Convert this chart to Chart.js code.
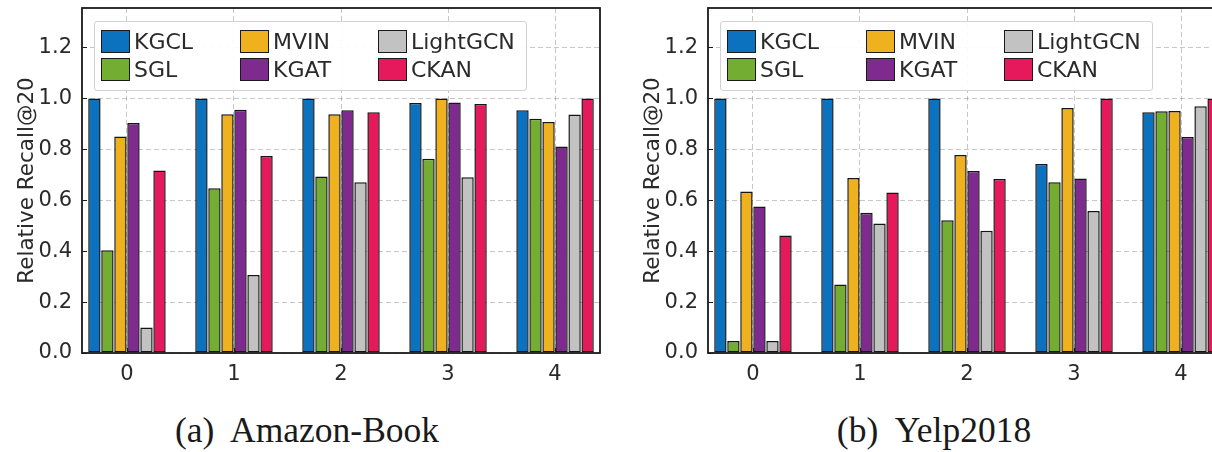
<!DOCTYPE html>
<html>
<head>
<meta charset="utf-8">
<script src="https://cdn.jsdelivr.net/npm/chart.js@4.4.0/dist/chart.umd.min.js"></script>
<style>
html, body { margin: 0; padding: 0; background: #fff; width: 1212px; height: 452px; overflow: hidden; position: relative; }
.panel { position: absolute; top: 0; width: 606px; height: 400px; }
.panel canvas { position: absolute; left: 0; top: 0; }
.legend { position: absolute; left: 94px; top: 21px; width: 433px; height: 70px; box-sizing: border-box;
  border: 1px solid #d2d2d2; background: rgba(255,255,255,0.92); border-radius: 3px;
  font-family: "DejaVu Sans"; font-size: 22px; color: #2a2a2a; }
.item { position: absolute; height: 23px; line-height: 23px; white-space: nowrap; }
.sw { position: absolute; left: 0; top: 0; width: 29px; height: 23px; box-sizing: border-box; border: 1.6px solid #1a1a1a; }
.lbl { position: absolute; left: 33px; top: 0; }
.cap { position: absolute; top: 413px; font-family: "Liberation Serif"; font-size: 35.5px; line-height: 35.5px;
  color: #1a1a1a; transform: translateX(-50%); white-space: pre; }
</style>
</head>
<body>
<div class="panel" id="p0" style="left:0px"><canvas id="c0" width="606" height="400"></canvas></div>
<div class="panel" id="p1" style="left:626px"><canvas id="c1" width="606" height="400"></canvas></div>
<div class="cap" id="cap0" style="left:307px"></div>
<div class="cap" id="cap1" style="left:934px"></div>
<script>
// ---- data ----
const categories = [0, 1, 2, 3, 4];
const seriesNames = ['KGCL', 'SGL', 'MVIN', 'KGAT', 'LightGCN', 'CKAN'];
const yTicks = [0, 0.2, 0.4, 0.6, 0.8, 1.0, 1.2];
const yAxisTitle = 'Relative Recall@20';
const subplotTitles = ['(a)  Amazon-Book', '(b)  Yelp2018'];

const amazonKGCL     = [1.000, 1.000, 1.000, 0.982, 0.953];
const amazonSGL      = [0.404, 0.647, 0.693, 0.763, 0.920];
const amazonMVIN     = [0.850, 0.938, 0.938, 1.000, 0.907];
const amazonKGAT     = [0.903, 0.955, 0.953, 0.984, 0.811];
const amazonLightGCN = [0.100, 0.306, 0.671, 0.690, 0.937];
const amazonCKAN     = [0.717, 0.774, 0.946, 0.978, 1.000];

const yelpKGCL     = [1.000, 1.000, 1.000, 0.742, 0.946];
const yelpSGL      = [0.047, 0.269, 0.521, 0.671, 0.949];
const yelpMVIN     = [0.634, 0.687, 0.778, 0.962, 0.950];
const yelpKGAT     = [0.575, 0.551, 0.715, 0.685, 0.848];
const yelpLightGCN = [0.047, 0.509, 0.480, 0.558, 0.969];
const yelpCKAN     = [0.461, 0.630, 0.683, 1.000, 1.000];

// ---- styles ----
const seriesColors = ['#0A72BF', '#73AD32', '#EFB21E', '#7E2A8E', '#C2C2C2', '#E6195C'];
const FONT = 'DejaVu Sans';

const framePlugin = {
  id: 'frame',
  afterDraw(chart) {
    const { ctx, chartArea: a, scales } = chart;
    ctx.save();
    ctx.strokeStyle = '#1a1a1a';
    ctx.lineWidth = 1.2;
    ctx.beginPath();
    yTicks.forEach(v => {
      const y = Math.round(scales.y.getPixelForValue(v)) + 0.5;
      ctx.moveTo(a.left, y); ctx.lineTo(a.left + 5, y);
    });
    categories.forEach(v => {
      const x = Math.round(scales.x.getPixelForValue(v)) + 0.5;
      ctx.moveTo(x, a.bottom); ctx.lineTo(x, a.bottom - 5);
    });
    ctx.stroke();
    ctx.lineWidth = 1.8;
    ctx.strokeRect(a.left, a.top, a.right - a.left, a.bottom - a.top);
    ctx.restore();
  }
};

function makeChart(canvasId, panelId, seriesData) {
  const datasets = seriesNames.map((name, i) => ({
    label: name,
    data: seriesData[i],
    backgroundColor: seriesColors[i],
    borderColor: '#151515',
    borderWidth: 1.5,
    borderSkipped: false,
    categoryPercentage: 0.73,
    barPercentage: 0.95
  }));
  const chart = new Chart(document.getElementById(canvasId), {
    type: 'bar',
    data: { labels: categories, datasets },
    plugins: [framePlugin],
    options: {
      responsive: false,
      animation: false,
      devicePixelRatio: 1,
      layout: { padding: { top: 8, right: 6, bottom: 0, left: 0 } },
      plugins: { legend: { display: false }, tooltip: { enabled: false } },
      scales: {
        x: {
          type: 'linear',
          min: -0.42, max: 4.42,
          offset: false,
          grid: { offset: false, color: 'rgba(0,0,0,0.22)', lineWidth: 1, drawTicks: false },
          border: { display: false, dash: [5, 3] },
          afterBuildTicks: s => { s.ticks = categories.map(v => ({ value: v })); },
          afterFit: s => { s.height = 47; s.paddingLeft = 0; s.paddingRight = 0; },
          ticks: { padding: 9, autoSkip: false, maxRotation: 0, color: '#2a2a2a',
                   font: { family: FONT, size: 21 }, callback: v => String(v) }
        },
        y: {
          min: 0, max: 1.355,
          grid: { color: 'rgba(0,0,0,0.22)', lineWidth: 1, drawTicks: false },
          border: { display: false, dash: [5, 3] },
          afterBuildTicks: s => { s.ticks = yTicks.map(v => ({ value: v })); },
          afterFit: s => { s.width = 82; s.paddingTop = 0; s.paddingBottom = 0; },
          ticks: { padding: 10, color: '#2a2a2a', font: { family: FONT, size: 21 },
                   callback: v => Number(v).toFixed(1) },
          title: { display: true, text: yAxisTitle, color: '#2a2a2a',
                   font: { family: FONT, size: 21.5 }, padding: { top: 15, bottom: 0 } }
        }
      }
    }
  });
  // HTML legend (matplotlib-like, 3 columns filled column-wise)
  const panel = document.getElementById(panelId);
  const lg = document.createElement('div');
  lg.className = 'legend';
  const items = chart.options.plugins.legend.labels.generateLabels(chart);
  const colX = [6, 145, 283], rowY = [8, 36];
  items.forEach((it, i) => {
    const col = Math.floor(i / 2), row = i % 2;
    const d = document.createElement('div');
    d.className = 'item';
    d.style.left = colX[col] + 'px';
    d.style.top = rowY[row] + 'px';
    const sw = document.createElement('span');
    sw.className = 'sw';
    sw.style.background = it.fillStyle;
    const tx = document.createElement('span');
    tx.className = 'lbl';
    tx.textContent = it.text;
    d.appendChild(sw); d.appendChild(tx);
    lg.appendChild(d);
  });
  panel.appendChild(lg);
  return chart;
}

makeChart('c0', 'p0', [amazonKGCL, amazonSGL, amazonMVIN, amazonKGAT, amazonLightGCN, amazonCKAN]);
makeChart('c1', 'p1', [yelpKGCL, yelpSGL, yelpMVIN, yelpKGAT, yelpLightGCN, yelpCKAN]);
document.getElementById('cap0').textContent = subplotTitles[0];
document.getElementById('cap1').textContent = subplotTitles[1];
</script>
</body>
</html>
